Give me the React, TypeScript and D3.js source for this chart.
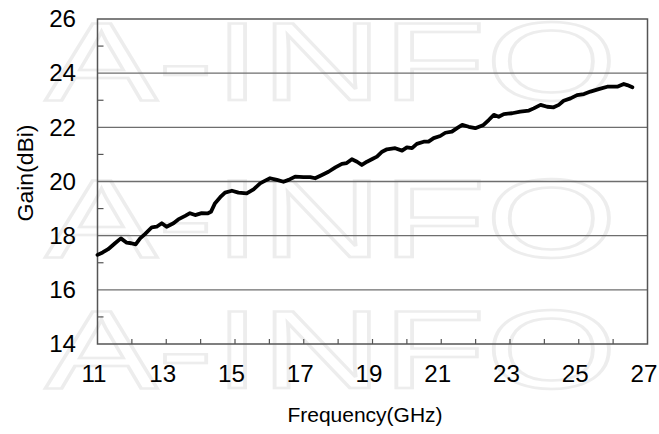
import React from "react";
import * as d3 from "d3";

const freq = [
  11.0, 11.15, 11.31, 11.51, 11.68, 11.85, 11.98, 12.11, 12.24, 12.38, 12.58, 12.72, 12.87, 13.01,
  13.21, 13.35, 13.55, 13.69, 13.84, 14.03, 14.2, 14.3, 14.42, 14.57, 14.71, 14.91, 15.1, 15.34,
  15.54, 15.73, 15.88, 16.02, 16.22, 16.41, 16.56, 16.75, 16.99, 17.19, 17.33, 17.53, 17.72, 17.92,
  18.11, 18.25, 18.4, 18.55, 18.69, 18.84, 18.98, 19.13, 19.28, 19.42, 19.66, 19.86, 20.0, 20.15,
  20.29, 20.49, 20.63, 20.78, 20.97, 21.12, 21.31, 21.46, 21.61, 21.8, 21.99, 22.23, 22.38, 22.53,
  22.67, 22.82, 23.06, 23.3, 23.55, 23.69, 23.89, 24.08, 24.27, 24.42, 24.56, 24.76, 24.95, 25.15,
  25.34, 25.58, 25.83, 26.12, 26.31, 26.41, 26.56,
];
const gain = [
  17.29, 17.38, 17.5, 17.72, 17.9, 17.74, 17.72, 17.68, 17.9, 18.06, 18.31, 18.33, 18.46, 18.33,
  18.46, 18.6, 18.73, 18.83, 18.76, 18.83, 18.82, 18.88, 19.2, 19.42, 19.59, 19.66, 19.59, 19.56,
  19.71, 19.93, 20.03, 20.12, 20.06, 19.99, 20.06, 20.18, 20.16, 20.16, 20.12, 20.24, 20.36, 20.52,
  20.65, 20.68, 20.82, 20.73, 20.61, 20.73, 20.82, 20.92, 21.1, 21.19, 21.23, 21.14, 21.26, 21.23,
  21.39, 21.47, 21.47, 21.6, 21.68, 21.8, 21.84, 21.97, 22.09, 22.02, 21.97, 22.09, 22.27, 22.46,
  22.39, 22.49, 22.52, 22.58, 22.62, 22.7, 22.83, 22.76, 22.74, 22.83, 22.98, 23.07, 23.19, 23.23,
  23.32, 23.41, 23.5, 23.5, 23.6, 23.56, 23.48,
];
const xTickLabels = [11, 13, 15, 17, 19, 21, 23, 25, 27];
const xMinorTicks = d3.range(12, 27, 1);
const yTickLabels = [14, 16, 18, 20, 22, 24, 26];
const yGridValues = [16, 18, 20, 22, 24];
const yMinorTicks = [15, 17, 19, 21, 23, 25];
const watermarkRows = ["A-INFO", "A-INFO", "A-INFO"];

const W = 659;
const H = 434;
const L = 97.5;
const R = 647.5;
const T = 19;
const B = 344;

export default function App() {
  const x = d3.scaleLinear().domain([11, 27]).range([L, R]);
  const y = d3.scaleLinear().domain([14, 26]).range([B, T]);
  const pts = freq.map((f, i) => [f, gain[i]] as [number, number]);
  const line = d3
    .line<[number, number]>()
    .x((d) => x(d[0]))
    .y((d) => y(d[1]))
    .curve(d3.curveLinear);
  const font = "'Liberation Sans', Arial, sans-serif";
  const wmBaselines = [100, 257, 388];
  return (
    <svg
      width={W}
      height={H}
      style={{ position: "absolute", left: 0, top: 0, background: "#fff" }}
    >
      <rect x={0} y={0} width={W} height={H} fill="#fff" />
      {watermarkRows.map((t, i) => (
        <text
          key={"wm" + i}
          x={45}
          y={wmBaselines[i]}
          fontFamily={font}
          fontSize={112}
          textLength={572}
          lengthAdjust="spacingAndGlyphs"
          fill="none"
          stroke="#ededed"
          strokeWidth={2.5}
        >
          {t}
        </text>
      ))}
      {yGridValues.map((v) => (
        <line key={"g" + v} x1={L} x2={R} y1={y(v)} y2={y(v)} stroke="#6e6e6e" strokeWidth={1.3} />
      ))}
      {yMinorTicks.map((v) => (
        <line key={"yt" + v} x1={L} x2={L + 6} y1={y(v)} y2={y(v)} stroke="#555" strokeWidth={1.2} />
      ))}
      {xMinorTicks.map((v) => (
        <line key={"xt" + v} x1={x(v)} x2={x(v)} y1={B} y2={B - 5} stroke="#555" strokeWidth={1.2} />
      ))}
      <rect x={L} y={T} width={R - L} height={B - T} fill="none" stroke="#555" strokeWidth={1.5} />
      <path
        d={line(pts) || ""}
        fill="none"
        stroke="#000"
        strokeWidth={3.8}
        strokeLinejoin="round"
        strokeLinecap="round"
      />
      {yTickLabels.map((v) => (
        <text
          key={"yl" + v}
          transform={`translate(76,${y(v)}) scale(1.05,1)`}
          dy="0.36em"
          textAnchor="end"
          fontFamily={font}
          fontSize={23}
          fill="#000"
        >
          {v}
        </text>
      ))}
      {xTickLabels.map((v) => (
        <text
          key={"xl" + v}
          transform={`translate(${x(v) - 3.5},382) scale(1.05,1)`}
          textAnchor="middle"
          fontFamily={font}
          fontSize={23}
          fill="#000"
        >
          {v}
        </text>
      ))}
      <text
        x={365}
        y={422}
        textAnchor="middle"
        fontFamily={font}
        fontSize={21}
        fill="#000"
      >
        Frequency(GHz)
      </text>
      <text
        transform={`translate(33,173) rotate(-90)`}
        textAnchor="middle"
        fontFamily={font}
        fontSize={22}
        textLength={97}
        lengthAdjust="spacingAndGlyphs"
        fill="#000"
      >
        Gain(dBi)
      </text>
    </svg>
  );
}
